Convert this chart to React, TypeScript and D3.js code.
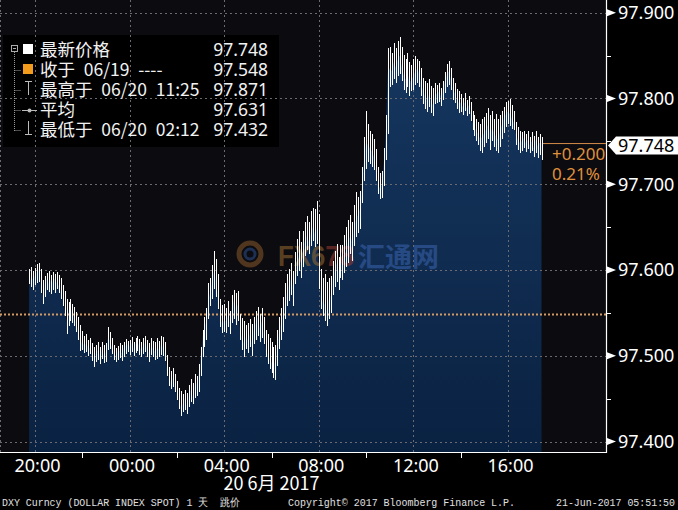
import React from 'react';
import * as d3 from 'd3';

const W = 678;
const H = 510;

// 5-minute bars starting 19 Jun 2017 19:45
const barStart = new Date(2017, 5, 19, 19, 45);
const barMinutes = 5;

const highs = [
  97.600, 97.603, 97.598,
  97.602, 97.606, 97.608, 97.600, 97.588, 97.592, 97.596, 97.598, 97.594, 97.597, 97.595, 97.597,
  97.594, 97.590, 97.582, 97.575, 97.566, 97.562, 97.565, 97.560, 97.556, 97.550, 97.545, 97.535,
  97.528, 97.522, 97.525, 97.518, 97.520, 97.514, 97.510, 97.512, 97.515, 97.510, 97.516, 97.512,
  97.514, 97.533, 97.527, 97.520, 97.512, 97.508, 97.511, 97.514, 97.512, 97.515, 97.519, 97.517,
  97.518, 97.521, 97.516, 97.520, 97.522, 97.519, 97.515, 97.520, 97.522, 97.518, 97.514, 97.520,
  97.517, 97.515, 97.520, 97.517, 97.523, 97.521, 97.515, 97.500, 97.486, 97.482, 97.485, 97.478,
  97.470, 97.462, 97.458, 97.455, 97.460, 97.456, 97.465, 97.472, 97.468, 97.478, 97.476, 97.490,
  97.510, 97.530, 97.545, 97.555, 97.584, 97.590, 97.605, 97.622, 97.612, 97.595, 97.565, 97.558,
  97.560, 97.555, 97.563, 97.552, 97.570, 97.576, 97.572, 97.575, 97.548, 97.544, 97.540, 97.535,
  97.538, 97.542, 97.536, 97.545, 97.552, 97.556, 97.548, 97.555, 97.545, 97.530, 97.525, 97.520,
  97.515, 97.510, 97.512, 97.530, 97.545, 97.555, 97.568, 97.584, 97.595, 97.600, 97.607, 97.598,
  97.620, 97.635, 97.645, 97.632, 97.645, 97.655, 97.662, 97.655, 97.668, 97.672, 97.670, 97.680,
  97.665, 97.600, 97.590, 97.595, 97.585, 97.590, 97.592, 97.610, 97.622, 97.630, 97.615, 97.628,
  97.628, 97.640, 97.650, 97.658, 97.664, 97.655, 97.675, 97.690, 97.685, 97.692, 97.720, 97.755,
  97.785, 97.770, 97.762, 97.758, 97.752, 97.740, 97.720, 97.712, 97.715, 97.742, 97.780, 97.858,
  97.860, 97.852, 97.864, 97.858, 97.866, 97.871, 97.860, 97.850, 97.845, 97.852, 97.842, 97.838,
  97.845, 97.849, 97.846, 97.843, 97.835, 97.823, 97.820, 97.818, 97.822, 97.814, 97.812, 97.818,
  97.815, 97.818, 97.812, 97.820, 97.830, 97.840, 97.843, 97.835, 97.823, 97.818, 97.810, 97.808,
  97.805, 97.800, 97.806, 97.798, 97.802, 97.795, 97.785, 97.780, 97.776, 97.772, 97.770, 97.775,
  97.778, 97.782, 97.788, 97.780, 97.785, 97.776, 97.781, 97.775, 97.780, 97.785, 97.790, 97.795,
  97.796, 97.799, 97.792, 97.785, 97.772, 97.766, 97.762, 97.760, 97.762, 97.758, 97.761, 97.755,
  97.760, 97.756, 97.762, 97.755, 97.758, 97.754,
];

const lows = [
  97.585, 97.582, 97.578,
  97.584, 97.586, 97.588, 97.575, 97.562, 97.570, 97.578, 97.576, 97.574, 97.578, 97.575, 97.580,
  97.575, 97.568, 97.560, 97.548, 97.527, 97.536, 97.542, 97.540, 97.537, 97.530, 97.520, 97.507,
  97.508, 97.505, 97.506, 97.502, 97.504, 97.496, 97.489, 97.494, 97.497, 97.492, 97.498, 97.493,
  97.495, 97.508, 97.510, 97.504, 97.497, 97.494, 97.497, 97.499, 97.496, 97.500, 97.504, 97.506,
  97.503, 97.506, 97.502, 97.505, 97.507, 97.503, 97.500, 97.504, 97.506, 97.500, 97.495, 97.503,
  97.500, 97.497, 97.498, 97.500, 97.503, 97.501, 97.496, 97.478, 97.466, 97.463, 97.465, 97.460,
  97.450, 97.440, 97.432, 97.436, 97.438, 97.434, 97.442, 97.448, 97.445, 97.452, 97.455, 97.460,
  97.478, 97.500, 97.512, 97.520, 97.545, 97.560, 97.568, 97.580, 97.570, 97.556, 97.535, 97.528,
  97.530, 97.528, 97.535, 97.527, 97.540, 97.545, 97.538, 97.542, 97.520, 97.508, 97.500, 97.510,
  97.505, 97.512, 97.502, 97.515, 97.520, 97.525, 97.518, 97.522, 97.515, 97.500, 97.492, 97.486,
  97.482, 97.476, 97.474, 97.490, 97.510, 97.520, 97.530, 97.545, 97.560, 97.566, 97.572, 97.560,
  97.585, 97.595, 97.600, 97.592, 97.605, 97.618, 97.625, 97.620, 97.630, 97.635, 97.628, 97.632,
  97.580, 97.556, 97.548, 97.542, 97.537, 97.545, 97.552, 97.572, 97.582, 97.588, 97.578, 97.592,
  97.590, 97.598, 97.605, 97.610, 97.620, 97.612, 97.630, 97.640, 97.645, 97.650, 97.680, 97.705,
  97.720, 97.728, 97.725, 97.722, 97.718, 97.705, 97.690, 97.684, 97.686, 97.700, 97.730, 97.760,
  97.815, 97.818, 97.825, 97.820, 97.828, 97.830, 97.822, 97.812, 97.808, 97.815, 97.805, 97.810,
  97.812, 97.818, 97.820, 97.815, 97.805, 97.795, 97.790, 97.786, 97.792, 97.785, 97.781, 97.795,
  97.796, 97.798, 97.793, 97.800, 97.808, 97.815, 97.818, 97.812, 97.800, 97.796, 97.790, 97.785,
  97.786, 97.783, 97.787, 97.781, 97.784, 97.776, 97.765, 97.758, 97.752, 97.748, 97.740, 97.738,
  97.745, 97.750, 97.755, 97.742, 97.752, 97.745, 97.740, 97.738, 97.745, 97.755, 97.762, 97.768,
  97.772, 97.770, 97.766, 97.765, 97.748, 97.742, 97.738, 97.740, 97.744, 97.739, 97.743, 97.738,
  97.740, 97.733, 97.738, 97.732, 97.736, 97.730,
];

const closes = [
  97.592, 97.588, 97.590,
  97.594, 97.598, 97.600, 97.580, 97.570, 97.585, 97.590, 97.584, 97.588, 97.586, 97.590, 97.585,
  97.582, 97.575, 97.566, 97.555, 97.540, 97.552, 97.556, 97.548, 97.545, 97.538, 97.528, 97.515,
  97.516, 97.512, 97.514, 97.510, 97.508, 97.502, 97.497, 97.504, 97.506, 97.500, 97.508, 97.499,
  97.505, 97.520, 97.518, 97.510, 97.503, 97.500, 97.505, 97.506, 97.503, 97.509, 97.512, 97.513,
  97.511, 97.515, 97.508, 97.514, 97.517, 97.510, 97.507, 97.512, 97.516, 97.508, 97.502, 97.511,
  97.508, 97.504, 97.510, 97.507, 97.514, 97.509, 97.500, 97.484, 97.472, 97.470, 97.474, 97.466,
  97.456, 97.446, 97.440, 97.444, 97.450, 97.442, 97.455, 97.460, 97.452, 97.466, 97.468, 97.480,
  97.500, 97.520, 97.535, 97.540, 97.565, 97.575, 97.590, 97.600, 97.585, 97.566, 97.545, 97.536,
  97.542, 97.540, 97.548, 97.538, 97.558, 97.565, 97.555, 97.560, 97.530, 97.520, 97.515, 97.522,
  97.518, 97.525, 97.515, 97.530, 97.538, 97.545, 97.532, 97.540, 97.528, 97.510, 97.502, 97.497,
  97.492, 97.488, 97.495, 97.515, 97.530, 97.540, 97.552, 97.565, 97.575, 97.585, 97.590, 97.578,
  97.602, 97.612, 97.620, 97.610, 97.625, 97.635, 97.640, 97.632, 97.645, 97.650, 97.642, 97.648,
  97.600, 97.570, 97.562, 97.560, 97.552, 97.565, 97.570, 97.590, 97.600, 97.608, 97.598, 97.610,
  97.608, 97.615, 97.625, 97.635, 97.640, 97.632, 97.652, 97.660, 97.665, 97.672, 97.700, 97.730,
  97.750, 97.745, 97.742, 97.738, 97.732, 97.715, 97.700, 97.695, 97.700, 97.725, 97.760, 97.830,
  97.835, 97.832, 97.842, 97.836, 97.845, 97.850, 97.838, 97.828, 97.822, 97.830, 97.818, 97.822,
  97.826, 97.832, 97.835, 97.828, 97.815, 97.808, 97.802, 97.798, 97.805, 97.796, 97.792, 97.806,
  97.805, 97.808, 97.802, 97.812, 97.820, 97.828, 97.832, 97.822, 97.810, 97.806, 97.798, 97.795,
  97.795, 97.790, 97.796, 97.788, 97.792, 97.784, 97.772, 97.766, 97.762, 97.758, 97.752, 97.756,
  97.760, 97.765, 97.770, 97.758, 97.766, 97.760, 97.755, 97.752, 97.762, 97.770, 97.778, 97.782,
  97.785, 97.782, 97.776, 97.772, 97.758, 97.752, 97.748, 97.750, 97.754, 97.748, 97.752, 97.745,
  97.750, 97.742, 97.752, 97.745, 97.748, 97.748,
];

const yTicks = [97.4, 97.5, 97.6, 97.7, 97.8, 97.9];
const yMinorTicks = [97.45, 97.55, 97.65, 97.75, 97.85];
const xMajorTicks = [
  new Date(2017, 5, 19, 20), new Date(2017, 5, 20, 0), new Date(2017, 5, 20, 4),
  new Date(2017, 5, 20, 8), new Date(2017, 5, 20, 12), new Date(2017, 5, 20, 16),
];
const xMinorTicks = [
  new Date(2017, 5, 19, 22), new Date(2017, 5, 20, 2), new Date(2017, 5, 20, 6),
  new Date(2017, 5, 20, 10), new Date(2017, 5, 20, 14),
];
const dateLabel = '20 6月 2017';
const dateLabelTime = new Date(2017, 5, 20, 6);

const prevClose = 97.548;
const lastPrice = 97.748;
const changeText = '+0.200';
const changePctText = '0.21%';

const legendNames = ['最新价格', '收于\u200206/19\u2002----', '最高于\u200206/20\u200211:25', '平均', '最低于\u200206/20\u200202:12'];
const legendValues = ['97.748', '97.548', '97.871', '97.631', '97.432'];

const footerLeft = 'DXY Curncy (DOLLAR INDEX SPOT) 1 天  跳价';
const footerMid = 'Copyright© 2017 Bloomberg Finance L.P.';
const footerRight = '21-Jun-2017 05:51:50';

const PLOT_R = 606;
const PLOT_B = 452;

const x = d3.scaleTime()
  .domain([new Date(2017, 5, 19, 20), new Date(2017, 5, 20, 16)])
  .range([35, 508]);
const y = d3.scaleLinear().domain([97.4, 97.9]).range([441.5, 12.7]);

const barTime = (i: number) => new Date(barStart.getTime() + i * barMinutes * 60000);

const fmt = d3.format('.3f');
const hm = d3.timeFormat('%H:%M');

const SANS = "'Noto Sans', 'Noto Sans CJK SC', sans-serif";
const CJK = "'Noto Sans CJK SC', 'Noto Sans', sans-serif";
const MONO = "'Liberation Mono', 'DejaVu Sans Mono', monospace";

export default function App() {
  const area = d3.area<number>()
    .x((_, i) => x(barTime(i)))
    .y0(PLOT_B)
    .y1((d) => y(d));
  const areaPath = area(closes) || '';
  const yl = y(lastPrice);

  const gridColor = '#6a6a70';

  return (
    <div>
      <style>{`body{margin:0;background:#000;}`}</style>
      <svg width={W} height={H} style={{ display: 'block' }}>
        <defs>
          <linearGradient id="areaGrad" gradientUnits="userSpaceOnUse" x1="0" y1="36" x2="0" y2={PLOT_B}>
            <stop offset="0" stopColor="#163760" />
            <stop offset="1" stopColor="#0a2242" />
          </linearGradient>
        </defs>
        <rect x={0} y={0} width={W} height={H} fill="#000" />
        <rect x={0} y={0} width={PLOT_R} height={PLOT_B} fill="#0b0b10" />
        {/* legend background */}
        <rect x={3} y={35} width={276} height={112} fill="#000" />

        <path d={areaPath} fill="url(#areaGrad)" />

        {/* watermark */}
        <g opacity={0.55}>
          <circle cx={250} cy={254} r={11} fill="none" stroke="#8a5a2a" strokeWidth={5} />
          <circle cx={250} cy={254} r={5} fill="none" stroke="#2d4f8a" strokeWidth={3} />
          <text x={278} y={266} fontFamily="'Liberation Sans', sans-serif" fontWeight="bold" fontSize={30}
            textLength={76} lengthAdjust="spacingAndGlyphs">
            <tspan fill="#9a6a30">FX6</tspan><tspan fill="#9a3a30">78</tspan>
          </text>
          <text x={358} y={267} fontFamily={CJK} fontWeight="bold" fontSize={27} fill="#3a64b0">汇通网</text>
        </g>

        {/* grid */}
        {yTicks.map((t) => (
          <line key={'gy' + t} x1={0} x2={PLOT_R} y1={Math.round(y(t)) + 0.5} y2={Math.round(y(t)) + 0.5}
            stroke={gridColor} strokeDasharray="2,3" strokeWidth={1} />
        ))}
        {xMajorTicks.map((t) => (
          <line key={'gx' + t.getTime()} x1={Math.round(x(t)) + 0.5} x2={Math.round(x(t)) + 0.5} y1={0} y2={PLOT_B}
            stroke={gridColor} strokeDasharray="2,3" strokeWidth={1} />
        ))}
        <line x1={0.5} x2={0.5} y1={0} y2={PLOT_B} stroke={gridColor} strokeDasharray="2,3" />

        {/* previous close */}
        <line x1={0} x2={PLOT_R} y1={y(prevClose)} y2={y(prevClose)} stroke="#d39a64" strokeWidth={2} strokeDasharray="2,2" />

        {/* bars */}
        <g stroke="#ffffff" strokeWidth={1} shapeRendering="crispEdges">
          {highs.map((h, i) => {
            const bx = Math.round(x(barTime(i))) + 0.5;
            return <line key={'b' + i} x1={bx} x2={bx} y1={Math.floor(y(h))} y2={Math.ceil(y(lows[i])) + 1} />;
          })}
        </g>

        {/* axes */}
        <line x1={PLOT_R + 0.5} x2={PLOT_R + 0.5} y1={0} y2={PLOT_B + 1} stroke="#fff" strokeWidth={1.2} />
        <line x1={0} x2={PLOT_R + 1} y1={PLOT_B + 0.5} y2={PLOT_B + 0.5} stroke="#fff" strokeWidth={1.2} />
        {yTicks.map((t) => {
          const ty = y(t);
          return (
            <g key={'yt' + t}>
              <path d={`M${PLOT_R + 1},${ty - 3.5}L${PLOT_R + 10},${ty}L${PLOT_R + 1},${ty + 3.5}Z`} fill="#fff" />
              <text x={618} y={ty + 6.3} fill="#fff" fontFamily={SANS} fontSize={18}>{fmt(t)}</text>
            </g>
          );
        })}
        {yMinorTicks.map((t) => (
          <line key={'ym' + t} x1={PLOT_R} x2={PLOT_R + 5} y1={Math.round(y(t)) + 0.5} y2={Math.round(y(t)) + 0.5} stroke="#fff" />
        ))}
        {xMinorTicks.map((t) => (
          <line key={'xm' + t.getTime()} x1={Math.round(x(t)) + 0.5} x2={Math.round(x(t)) + 0.5} y1={PLOT_B} y2={PLOT_B + 6} stroke="#fff" />
        ))}
        {xMajorTicks.map((t) => (
          <text key={'xl' + t.getTime()} x={x(t) + 2.5} y={472} fill="#fff" fontFamily={SANS} fontSize={18} textAnchor="middle">
            {hm(t)}
          </text>
        ))}
        <text x={x(dateLabelTime)} y={490} fill="#fff" fontFamily={CJK} fontSize={18} textAnchor="middle">{dateLabel}</text>

        {/* legend */}
        <g>
          <rect x={11.5} y={45.5} width={6} height={6} fill="none" stroke="#aaa" />
          <line x1={13} x2={16} y1={48.5} y2={48.5} stroke="#aaa" />
          <line x1={14.5} x2={14.5} y1={52} y2={131} stroke="#999" strokeDasharray="1,1" />
          {[70, 90, 110, 130].map((ry) => (
            <line key={'br' + ry} x1={14.5} x2={21} y1={ry + 0.5} y2={ry + 0.5} stroke="#999" strokeDasharray="1,1" />
          ))}
          <rect x={23} y={44} width={10} height={10} fill="#ffffff" />
          <rect x={23} y={64} width={10} height={10} fill="#f29b1d" />
          <line x1={25} x2={32} y1={81.5} y2={81.5} stroke="#bbb" />
          <line x1={28.5} x2={28.5} y1={81.5} y2={95} stroke="#bbb" />
          <line x1={22} x2={37} y1={110.5} y2={110.5} stroke="#bbb" />
          <circle cx={29.5} cy={110.5} r={2} fill="#bbb" />
          <line x1={28.5} x2={28.5} y1={121} y2={135} stroke="#bbb" />
          <line x1={25} x2={32} y1={134.5} y2={134.5} stroke="#bbb" />
          {legendNames.map((n, i) => (
            <text key={'ln' + i} x={40} y={56 + i * 20} fill="#f2f2f2" fontFamily={CJK} fontSize={17.5}
              style={{ whiteSpace: 'pre' }}>{n}</text>
          ))}
          {legendValues.map((v, i) => (
            <text key={'lv' + i} x={268} y={56 + i * 20} fill="#f2f2f2" fontFamily={SANS} fontSize={17.5}
              textAnchor="end">{v}</text>
          ))}
        </g>

        {/* last price change label */}
        <line x1={543} x2={PLOT_R} y1={yl + 0.5} y2={yl + 0.5} stroke="#d38b4a" strokeWidth={1} />
        <text x={552} y={yl + 17} fill="#e0913c" fontFamily={SANS} fontSize={17}>{changeText}</text>
        <text x={552} y={yl + 37} fill="#e0913c" fontFamily={SANS} fontSize={17}>{changePctText}</text>

        {/* last price box */}
        <path d={`M${PLOT_R + 2},${yl + 2.5}L${PLOT_R + 10},${yl - 6.5}L${W},${yl - 6.5}L${W},${yl + 11.5}L${PLOT_R + 10},${yl + 11.5}Z`} fill="#fff" />
        <text x={618} y={yl + 9} fill="#000" fontFamily={SANS} fontSize={18}>{fmt(lastPrice)}</text>

        {/* footer */}
        <text x={2} y={506} fill="#e0e0e0" fontFamily={MONO} fontSize={11} textLength={238} lengthAdjust="spacingAndGlyphs"
          style={{ whiteSpace: 'pre' }}>{footerLeft}</text>
        <text x={288} y={506} fill="#e0e0e0" fontFamily={MONO} fontSize={11} textLength={227} lengthAdjust="spacingAndGlyphs">{footerMid}</text>
        <text x={556} y={506} fill="#e0e0e0" fontFamily={MONO} fontSize={11} textLength={119} lengthAdjust="spacingAndGlyphs">{footerRight}</text>
      </svg>
    </div>
  );
}
